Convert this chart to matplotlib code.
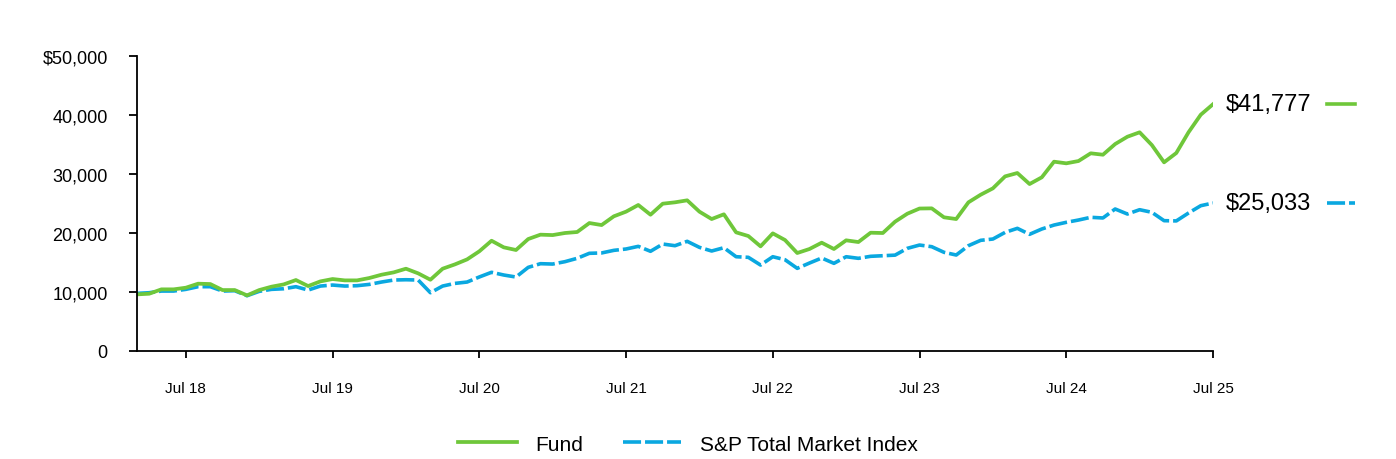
import matplotlib
matplotlib.use('Agg')
import matplotlib.pyplot as plt
import pandas as pd

plt.rcParams['font.family'] = ['Liberation Sans', 'DejaVu Sans']

# monthly values, Mar 2018 - Jul 2025
months = pd.date_range('2018-03-01', '2025-07-01', freq='MS')

fund = [9550, 9660, 10400, 10400, 10680, 11360, 11300, 10280, 10280, 9380,
        10280, 10850, 11240, 11980, 10960, 11750, 12150, 11920, 11920, 12320,
        12880, 13280, 13900, 13110, 12030, 13900, 14630, 15480, 16850, 18640,
        17520, 17070, 18930, 19670, 19600, 19950, 20120, 21640, 21300, 22780,
        23570, 24700, 23050, 24920, 25150, 25490, 23570, 22320, 23120, 20060,
        19440, 17690, 19890, 18760, 16560, 17240, 18310, 17240, 18710, 18420,
        20000, 19950, 21870, 23220, 24100, 24130, 22610, 22320, 25150, 26440,
        27520, 29550, 30120, 28250, 29390, 32040, 31760, 32150, 33460, 33220,
        35030, 36270, 37020, 34860, 31930, 33510, 37020, 40000, 41777]

index = [9720, 9830, 10110, 10110, 10400, 10850, 10850, 10110, 10170, 9320,
         10060, 10400, 10500, 10850, 10280, 10960, 11130, 10960, 11020, 11240,
         11640, 11980, 12030, 11980, 9830, 10960, 11410, 11640, 12500, 13290,
         12830, 12490, 14130, 14750, 14690, 15090, 15660, 16510, 16570, 17010,
         17240, 17690, 16850, 18080, 17800, 18540, 17520, 16900, 17460, 15930,
         15830, 14520, 15930, 15420, 13960, 14860, 15710, 14810, 15930, 15660,
         16000, 16100, 16200, 17350, 17910, 17630, 16680, 16220, 17800, 18710,
         18930, 20060, 20740, 19730, 20630, 21300, 21760, 22150, 22610, 22500,
         24020, 23170, 23900, 23460, 22040, 22000, 23340, 24580, 25033]

series_names = ['Fund', 'S&P Total Market Index']
green = '#6FC73A'
blue = '#0AA8E0'
dash = (0, (5, 1.1))

x = list(range(len(months)))
tick_pos = [i for i, m in enumerate(months) if m.month == 7]
tick_lab = [months[i].strftime('Jul %y') for i in tick_pos]

fig = plt.figure(figsize=(13.96, 4.6), dpi=100)
ax = fig.add_axes([0.0981, 0.2354, 0.7708, 0.6413])

ax.plot(x, index, color=blue, lw=2.6, ls=dash, label=series_names[1])
ax.plot(x, fund, color=green, lw=2.7, label=series_names[0])

ax.set_xlim(0, x[-1])
ax.set_ylim(0, 50000)
ax.set_yticks(range(0, 50001, 10000))
ax.set_yticklabels(['0', '10,000', '20,000', '30,000', '40,000', '$50,000'])
ax.set_xticks(tick_pos)
ax.set_xticklabels(tick_lab)

for s in ['top', 'right']:
    ax.spines[s].set_visible(False)
for s in ['left', 'bottom']:
    ax.spines[s].set_linewidth(1.3)
ax.tick_params(axis='y', length=6, width=1.3, pad=15, labelsize=13)
ax.tick_params(axis='x', length=5, width=1.3, pad=17, labelsize=11)

# end labels with short line keys
for vals, col, ls in [(fund, green, '-'), (index, blue, dash)]:
    v = vals[-1]
    ax.annotate(f'${v:,}', xy=(x[-1], v), xytext=(9, 0), textcoords='offset points',
                va='center', ha='left', fontsize=17, annotation_clip=False)
    ax.plot([x[-1] + 9.3, x[-1] + 11.6], [v, v], color=col, lw=2.6, ls=ls, clip_on=False)

h, l = ax.get_legend_handles_labels()
fig.legend(h[::-1], l[::-1], loc='center', bbox_to_anchor=(0.493, 0.032), ncol=2,
           frameon=False, fontsize=15, handlelength=2.8, handletextpad=0.9,
           columnspacing=1.9)

fig.savefig('out.png', dpi=100)
